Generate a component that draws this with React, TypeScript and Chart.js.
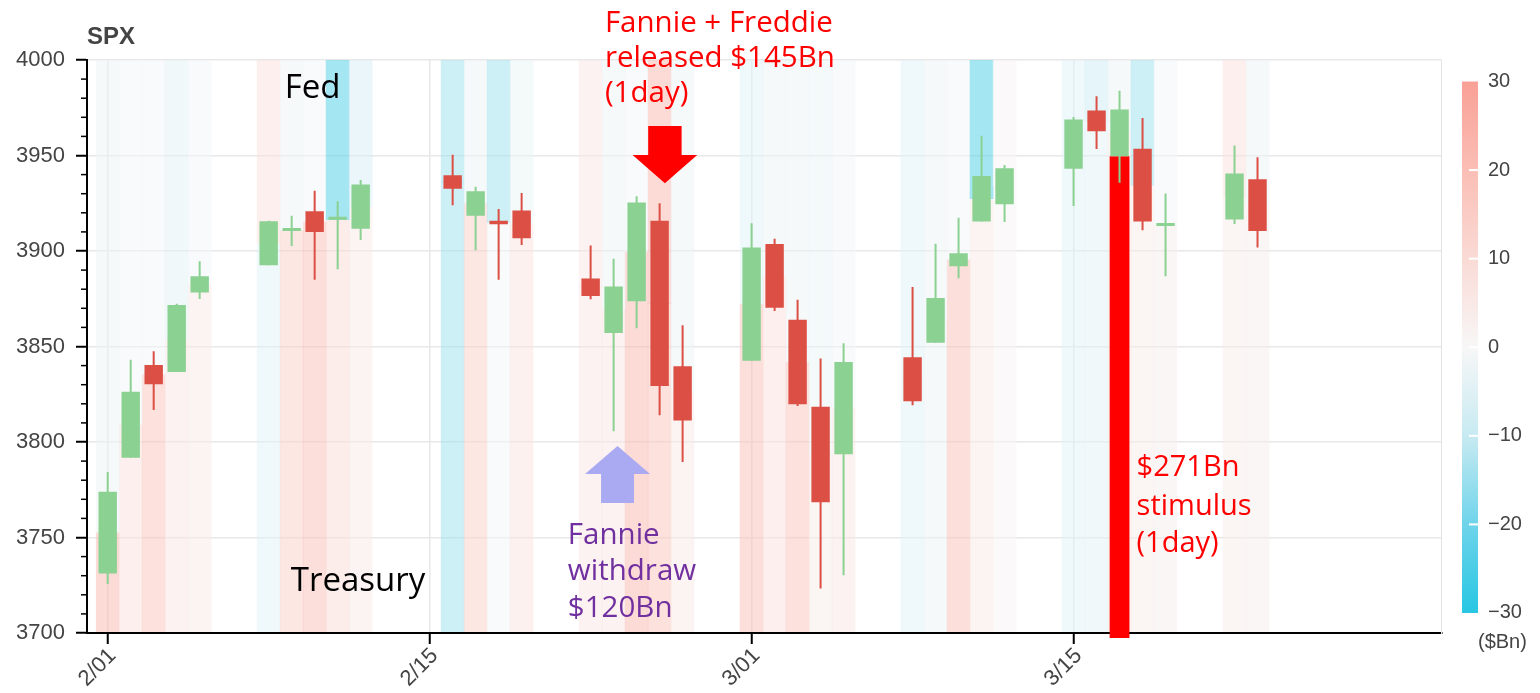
import React, { useEffect, useRef } from 'react';
import { Chart, registerables } from 'chart.js';

Chart.register(...registerables);

// ---------- data ----------
const dates = ['2/01', '2/02', '2/03', '2/04', '2/05', '2/08', '2/09', '2/10', '2/11', '2/12',
  '2/16', '2/17', '2/18', '2/19', '2/22', '2/23', '2/24', '2/25', '2/26',
  '3/01', '3/02', '3/03', '3/04', '3/05', '3/08', '3/09', '3/10', '3/11', '3/12',
  '3/15', '3/16', '3/17', '3/18', '3/19', '3/22', '3/23'];
const openPx = [3731.2, 3791.8, 3840.3, 3836.7, 3878.3, 3892.6, 3910.5, 3920.8, 3916.4, 3911.7,
  3939.6, 3918.5, 3915.9, 3921.2, 3885.6, 3857.1, 3873.7, 3915.8, 3839.7,
  3842.5, 3903.6, 3864.0, 3818.5, 3793.6, 3844.4, 3851.9, 3892.0, 3915.5, 3924.5,
  3943.0, 3973.6, 3949.6, 3953.5, 3913.1, 3916.5, 3937.6];
const highPx = [3784.3, 3843.1, 3847.5, 3872.4, 3894.6, 3915.8, 3918.4, 3931.5, 3926.0, 3937.2,
  3950.4, 3933.6, 3922.0, 3930.4, 3902.9, 3896.0, 3928.7, 3925.0, 3861.1,
  3914.5, 3906.4, 3874.5, 3843.7, 3851.7, 3881.1, 3903.8, 3917.4, 3960.3, 3945.0,
  3970.1, 3981.0, 3983.9, 3969.6, 3930.1, 3955.3, 3949.1];
const lowPx = [3725.6, 3791.8, 3816.7, 3836.7, 3874.9, 3892.6, 3902.6, 3884.9, 3890.4, 3905.8,
  3923.9, 3900.4, 3885.0, 3903.1, 3874.7, 3805.6, 3859.6, 3814.0, 3789.5,
  3842.5, 3868.6, 3818.9, 3723.3, 3730.2, 3819.3, 3851.9, 3885.7, 3915.5, 3915.2,
  3923.5, 3953.4, 3935.7, 3910.9, 3886.8, 3914.2, 3901.8];
const closePx = [3773.9, 3826.3, 3830.2, 3871.7, 3886.8, 3915.6, 3911.2, 3909.9, 3916.4, 3934.8,
  3932.6, 3931.3, 3914.0, 3906.7, 3876.5, 3881.4, 3925.4, 3829.3, 3811.2,
  3901.8, 3870.3, 3819.7, 3768.5, 3841.9, 3821.4, 3875.4, 3898.8, 3939.3, 3943.3,
  3968.9, 3962.7, 3974.1, 3915.5, 3913.1, 3940.6, 3910.5];
// daily net liquidity flows ($Bn), drawn as background colour bands
const fedFlow = [-2, -1, -1, -4, -1, 8, -2, -1, -25, -7,
  -15, -2, -15, -3, 6, -2, -1, 22, -2,
  -5, -2, -2, -3, -1, -5, -2, -1, -25, 1,
  -5, -9, -2, -15, -1, 8, -2];
const treasuryFlow = [22, 8, 18, 6, 5, -5, 14, 20, 10, 5,
  -15, 14, -1, 7, 6, 6, 22, 18, 5,
  20, 8, 18, 4, 6, -5, -2, 20, 5, 1,
  -5, -4, 5, 4, 3, 4, 3];
const stimulusDate = '3/17';
const stimulusAmount = 271; // $Bn, one day
const stimulusFloor = 3697.4;

const xTickLabels = ['2/01', '2/15', '3/01', '3/15'];
const yTickValues = [3700, 3750, 3800, 3850, 3900, 3950, 4000];
const colorbarTicks = [30, 20, 10, 0, -10, -20, -30];
const colorscaleStops = [-30, -20, -10, 0, 10, 20, 30];
const colorscaleColors = [[40, 198, 227], [110, 212, 234], [200, 234, 242], [247, 247, 247],
  [250, 218, 213], [250, 190, 181], [249, 160, 150]];

// ---------- helpers ----------
const monthStart: Record<number, number> = { 1: -31, 2: 0, 3: 28 };
const dayOf = (d: string) => {
  const [m, dd] = d.split('/').map(Number);
  return monthStart[m] + dd - 1;
};
const days = dates.map(dayOf);
const xTickDays = xTickLabels.map(dayOf);
const mids = openPx.map((o, i) => (o + closePx[i]) / 2);
const Y_MIN = 3700;
const Y_MAX = 4000;

function scaleColor(v: number): number[] {
  const n = colorscaleStops.length;
  const c = Math.max(colorscaleStops[0], Math.min(colorscaleStops[n - 1], v));
  let seg = 0;
  while (seg < n - 2 && c > colorscaleStops[seg + 1]) seg++;
  const t = (c - colorscaleStops[seg]) / (colorscaleStops[seg + 1] - colorscaleStops[seg]);
  const a = colorscaleColors[seg];
  const b = colorscaleColors[seg + 1];
  return a.map((x, k) => Math.round(x + (b[k] - x) * t));
}
const bandColor = (v: number) => {
  const [r, g, b] = scaleColor(v);
  return `rgba(${r},${g},${b},0.5)`;
};

const GREEN = '#8bd192';
const RED = '#dc4f45';
const candleColors = openPx.map((o, i) => (closePx[i] >= o ? GREEN : RED));

// annotations in data coordinates (day offset, SPX value)
const textNotes = [
  { lines: ['Fed'], day: 7.7, base: [3980.3], color: '#000000', size: 33 },
  { lines: ['Treasury'], day: 7.96, base: [3722.0], color: '#000000', size: 33 },
  { lines: ['Fannie + Freddie', 'released $145Bn', '(1day)'], day: 21.62, base: [4014.7, 3996.3, 3978.0], color: '#ff0000', size: 29.5 },
  { lines: ['Fannie', 'withdraw', '$120Bn'], day: 20.01, base: [3746.6, 3727.75, 3708.4], color: '#7030a0', size: 29.5 },
  { lines: ['$' + stimulusAmount + 'Bn', 'stimulus', '(1day)'], day: 44.74, base: [3782.2, 3762.0, 3742.4], color: '#ff0000', size: 29 },
];
const arrowNotes = [
  { day: 24.23, shaftHalf: 0.726, headHalf: 1.404, tail: 3965.45, neck: 3950.26, tip: 3935.45, color: '#ff0000' },
  { day: 22.17, shaftHalf: 0.717, headHalf: 1.413, tail: 3768.06, neck: 3783.25, tip: 3797.9, color: '#aaaaf2' },
];

const stimIdx = dates.indexOf(stimulusDate);

const decorPlugin = {
  id: 'decor',
  afterDraw(chart: any) {
    const { ctx, chartArea, scales } = chart;
    const xs = scales.x;
    const ys = scales.y;
    const cb = scales.cb;
    ctx.save();
    // minor ticks on y axis
    ctx.strokeStyle = '#000';
    ctx.lineWidth = 1.5;
    for (let v = Y_MIN + 10; v < Y_MAX; v += 10) {
      if (v % 50 === 0) continue;
      const y = ys.getPixelForValue(v);
      ctx.beginPath();
      ctx.moveTo(chartArea.left - 6, y);
      ctx.lineTo(chartArea.left, y);
      ctx.stroke();
    }
    // SPX title
    ctx.fillStyle = '#444';
    ctx.font = 'bold 24px "Liberation Sans", Arial, sans-serif';
    ctx.textAlign = 'left';
    ctx.textBaseline = 'alphabetic';
    ctx.fillText('SPX', chartArea.left, chartArea.top - 16);

    // colorbar
    const x0 = cb.left + 20.5;
    const w = 16;
    const yTop = cb.getPixelForValue(colorbarTicks[0]);
    const yBot = cb.getPixelForValue(colorbarTicks[colorbarTicks.length - 1]);
    const grad = ctx.createLinearGradient(0, yTop, 0, yBot);
    const steps = 30;
    for (let i = 0; i <= steps; i++) {
      const v = colorbarTicks[0] + (colorbarTicks[colorbarTicks.length - 1] - colorbarTicks[0]) * i / steps;
      const [r, g, b] = scaleColor(v);
      grad.addColorStop(i / steps, `rgb(${r},${g},${b})`);
    }
    ctx.fillStyle = grad;
    ctx.fillRect(x0, yTop, w, yBot - yTop);
    ctx.strokeStyle = '#ffffff';
    ctx.lineWidth = 2;
    colorbarTicks.slice(1, -1).forEach((v) => {
      const y = cb.getPixelForValue(v);
      ctx.beginPath();
      ctx.moveTo(x0 + 7, y);
      ctx.lineTo(x0 + w, y);
      ctx.stroke();
    });
    ctx.fillStyle = '#444';
    ctx.font = '20px "Liberation Sans", Arial, sans-serif';
    ctx.fillText('($Bn)', x0 + w, yBot + 35);

    // arrows
    arrowNotes.forEach((a) => {
      const cx = xs.getPixelForValue(a.day);
      const sl = xs.getPixelForValue(a.day - a.shaftHalf);
      const sr = xs.getPixelForValue(a.day + a.shaftHalf);
      const hl = xs.getPixelForValue(a.day - a.headHalf);
      const hr = xs.getPixelForValue(a.day + a.headHalf);
      const yt = ys.getPixelForValue(a.tail);
      const yn = ys.getPixelForValue(a.neck);
      const yp = ys.getPixelForValue(a.tip);
      ctx.fillStyle = a.color;
      ctx.beginPath();
      ctx.moveTo(sl, yt);
      ctx.lineTo(sr, yt);
      ctx.lineTo(sr, yn);
      ctx.lineTo(hr, yn);
      ctx.lineTo(cx, yp);
      ctx.lineTo(hl, yn);
      ctx.lineTo(sl, yn);
      ctx.closePath();
      ctx.fill();
    });

    // text notes
    textNotes.forEach((n) => {
      ctx.fillStyle = n.color;
      ctx.font = `${n.size}px "Open Sans", "Noto Sans", sans-serif`;
      ctx.textAlign = 'left';
      ctx.textBaseline = 'alphabetic';
      n.lines.forEach((line, i) => {
        ctx.fillText(line, xs.getPixelForValue(n.day), ys.getPixelForValue(n.base[i]));
      });
    });
    ctx.restore();
  },
};

export default function App() {
  const ref = useRef<HTMLCanvasElement>(null);
  useEffect(() => {
    document.body.style.margin = '0';
    const canvas = ref.current;
    if (!canvas) return;
    const common = { grouped: false, categoryPercentage: 1 };
    const chart = new Chart(canvas, {
      type: 'bar',
      data: {
        datasets: [
          {
            label: 'body',
            ...common,
            order: 1,
            barPercentage: 0.8,
            minBarLength: 3,
            data: days.map((d, i) => ({ x: d, y: [openPx[i], closePx[i]] })),
            backgroundColor: candleColors,
          },
          {
            label: 'wick',
            ...common,
            order: 2,
            barPercentage: 0.09,
            maxBarThickness: 2,
            data: days.map((d, i) => ({ x: d, y: [lowPx[i], highPx[i]] })),
            backgroundColor: candleColors,
          },
          {
            label: 'stimulus',
            ...common,
            order: 3,
            barPercentage: 0.86,
            clip: false,
            data: [{ x: days[stimIdx], y: [stimulusFloor, Math.min(openPx[stimIdx], closePx[stimIdx])] }],
            backgroundColor: '#ff0000',
          },
          {
            label: 'Fed',
            ...common,
            order: 5,
            barPercentage: 1,
            clip: { left: 0, right: 0, top: 0, bottom: -1 },
            data: days.map((d, i) => ({ x: d, y: [mids[i], Y_MAX] })),
            backgroundColor: fedFlow.map(bandColor),
          },
          {
            label: 'Treasury',
            ...common,
            order: 5,
            barPercentage: 1,
            clip: { left: 0, right: 0, top: 0, bottom: -1 },
            data: days.map((d, i) => ({ x: d, y: [Y_MIN, mids[i]] })),
            backgroundColor: treasuryFlow.map(bandColor),
          },
        ] as any,
      },
      options: {
        animation: false,
        responsive: false,
        events: [],
        layout: { padding: { top: 60, left: 0, right: 0, bottom: 0 } },
        plugins: { legend: { display: false }, tooltip: { enabled: false }, title: { display: false } },
        scales: {
          x: {
            type: 'linear',
            offset: false,
            min: -0.9,
            max: 58,
            grid: { offset: false, color: '#e8e8e8', lineWidth: 1.5, tickColor: '#000', tickLength: 11, tickWidth: 2 },
            border: { display: true, color: '#000', width: 2 },
            afterBuildTicks: (s: any) => { s.ticks = xTickDays.map((v) => ({ value: v })); },
            afterFit: (s: any) => { s.height = 60; },
            ticks: {
              autoSkip: false,
              minRotation: 45,
              maxRotation: 45,
              padding: -1,
              labelOffset: 5,
              color: '#444',
              font: { size: 22, family: '"Liberation Sans", Arial, sans-serif' },
              callback: (v: any) => xTickLabels[xTickDays.indexOf(Number(v))] ?? '',
            },
          },
          y: {
            type: 'linear',
            position: 'left',
            min: Y_MIN,
            max: Y_MAX,
            grid: { color: '#e8e8e8', lineWidth: 1.5, tickColor: '#000', tickLength: 11, tickWidth: 2 },
            border: { display: true, color: '#000', width: 2 },
            afterBuildTicks: (s: any) => { s.ticks = yTickValues.map((v) => ({ value: v })); },
            afterFit: (s: any) => { s.width = 87; },
            ticks: {
              padding: 11,
              color: '#444',
              font: { size: 22, family: '"Liberation Sans", Arial, sans-serif' },
              callback: (v: any) => String(v),
            },
          },
          cb: {
            type: 'linear',
            position: 'right',
            min: -32.26,
            max: 32.43,
            grid: { drawOnChartArea: false, drawTicks: false },
            border: { display: true, color: '#e2e2e2', width: 1 },
            afterBuildTicks: (s: any) => { s.ticks = colorbarTicks.map((v) => ({ value: v })); },
            afterFit: (s: any) => { s.width = 98.5; },
            ticks: {
              padding: 46.5,
              color: '#444',
              font: { size: 20, family: '"Liberation Sans", Arial, sans-serif' },
              callback: (v: any) => (Number(v) < 0 ? '\u2212' + Math.abs(Number(v)) : String(v)),
            },
          },
        },
      } as any,
      plugins: [decorPlugin],
    });
    return () => chart.destroy();
  }, []);
  return (
    <div style={{ position: 'fixed', left: 0, top: 0, width: 1540, height: 693, background: '#fff' }}>
      <canvas ref={ref} width={1540} height={693} style={{ display: 'block' }} />
    </div>
  );
}
